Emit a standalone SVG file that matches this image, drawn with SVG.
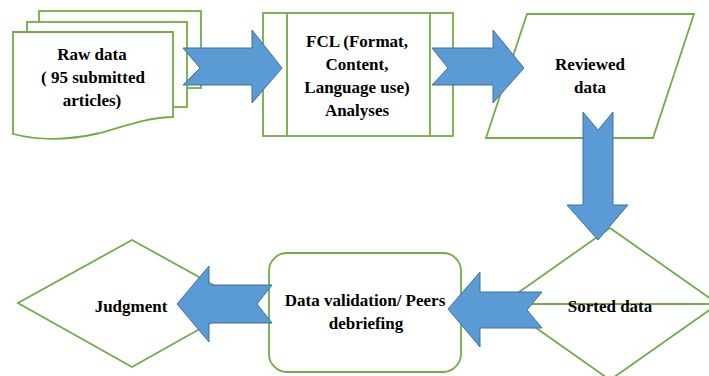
<svg xmlns="http://www.w3.org/2000/svg" width="709" height="376" viewBox="0 0 709 376">
  <defs>
    <style>
      .shape { fill: #ffffff; stroke: #70ad47; stroke-width: 1.8; stroke-linejoin: miter; }
      .line { fill: none; stroke: #70ad47; stroke-width: 1.8; }
      .arrow { fill: #5b9bd5; stroke: #41719c; stroke-width: 1; stroke-linejoin: miter; }
      .label { font-family: 'Liberation Serif', 'Times New Roman', serif; font-weight: bold; font-size: 17px; fill: #000000; text-anchor: middle; }
    </style>
  </defs>

  <rect width="709" height="376" fill="#ffffff"/>

  <!-- Raw data: stacked documents -->
  <g id="raw-data">
    <rect class="shape" x="39" y="11" width="162" height="77"/>
    <rect class="shape" x="27" y="22" width="160" height="85"/>
    <path class="shape" d="M13,32 H173 V117 C150,117 125,126 100,133 C70,140 40,141 13,134 Z"/>
    <text class="label" font-family="Liberation Serif, serif" x="92" y="60">Raw data</text>
    <text class="label" font-family="Liberation Serif, serif" x="93" y="83">( 95 submitted</text>
    <text class="label" font-family="Liberation Serif, serif" x="92" y="106">articles)</text>
  </g>

  <!-- FCL analyses: predefined process -->
  <g id="fcl-analyses">
    <rect class="shape" x="263" y="13" width="190" height="123"/>
    <line class="line" x1="287" y1="13" x2="287" y2="136"/>
    <line class="line" x1="430" y1="13" x2="430" y2="136"/>
    <text class="label" font-family="Liberation Serif, serif" x="357" y="47">FCL (Format,</text>
    <text class="label" font-family="Liberation Serif, serif" x="357" y="70">Content,</text>
    <text class="label" font-family="Liberation Serif, serif" x="357" y="93">Language use)</text>
    <text class="label" font-family="Liberation Serif, serif" x="357" y="116">Analyses</text>
  </g>

  <!-- Reviewed data: parallelogram -->
  <g id="reviewed-data">
    <polygon class="shape" points="527,14 694,14 653,138 486,138"/>
    <text class="label" font-family="Liberation Serif, serif" x="590" y="70">Reviewed</text>
    <text class="label" font-family="Liberation Serif, serif" x="590" y="93">data</text>
  </g>

  <!-- Sorted data: decision with a horizontal divider -->
  <g id="sorted-data">
    <polygon class="shape" points="610,228 718,304 610,380 502,304"/>
    <line class="line" x1="502" y1="304" x2="718" y2="304"/>
    <text class="label" font-family="Liberation Serif, serif" x="610" y="312">Sorted data</text>
  </g>

  <!-- Data validation / peers debriefing -->
  <g id="data-validation">
    <rect class="shape" x="269" y="253" width="192" height="119" rx="18" ry="18"/>
    <text class="label" font-family="Liberation Serif, serif" x="365" y="306">Data validation/ Peers</text>
    <text class="label" font-family="Liberation Serif, serif" x="366" y="329">debriefing</text>
  </g>

  <!-- Judgment decision -->
  <g id="judgment">
    <polygon class="shape" points="132,240 246,303 132,367 18,303"/>
    <text class="label" font-family="Liberation Serif, serif" x="131" y="312">Judgment</text>
  </g>

  <!-- Block arrows between steps -->
  <g id="connectors">
    <polygon class="arrow" points="183,48 252,48 252,30 282,68 252,103 252,85 183,85 200,68"/>
    <polygon class="arrow" points="432,48 493,48 493,30 524,68 493,103 493,85 432,85 448,68"/>
    <polygon class="arrow" points="583,112 598,130 613,112 613,205 628,205 598,240 567,205 583,205"/>
    <polygon class="arrow" points="542,292 480,292 480,272 448,309 480,347 480,328 542,328 527,310"/>
    <polygon class="arrow" points="272,285 209,285 209,266 177,304 209,342 209,323 272,323 257,304"/>
  </g>
</svg>
